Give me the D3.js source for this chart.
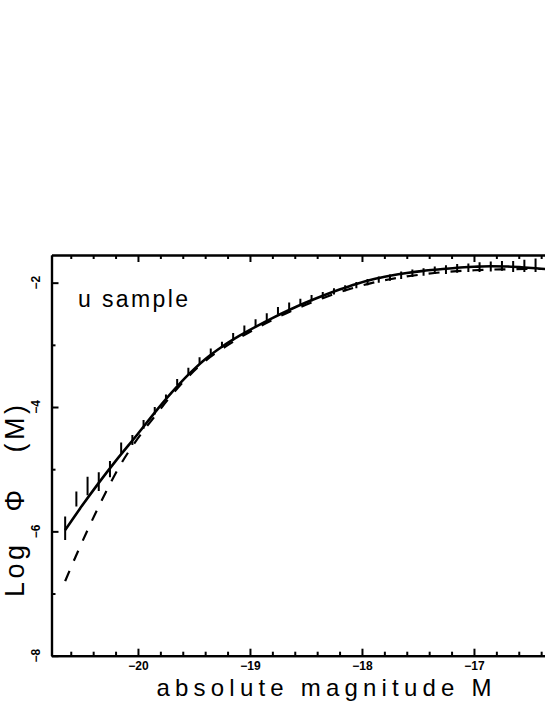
<!DOCTYPE html>
<html><head><meta charset="utf-8">
<script src="https://cdn.jsdelivr.net/npm/d3@7"></script>
<style>body{margin:0;background:#fff}svg{display:block}</style>
</head><body>
<script>
// Solid curve (fit)
const solidM = [-20.65,-20.5,-20.35,-20.2,-20.0,-19.85,-19.7,-19.55,-19.4,-19.25,-19.1,-18.95,-18.8,-18.65,-18.5,-18.35,-18.2,-18.05,-17.9,-17.75,-17.6,-17.45,-17.3,-17.15,-17.0,-16.85,-16.7,-16.55,-16.4,-16.25];
const solidV = [-5.98,-5.59,-5.22,-4.87,-4.43,-4.09,-3.77,-3.48,-3.23,-3.03,-2.86,-2.71,-2.57,-2.44,-2.32,-2.21,-2.11,-2.02,-1.945,-1.89,-1.845,-1.81,-1.785,-1.76,-1.745,-1.735,-1.74,-1.755,-1.775,-1.795];
// Dashed curve
const dashM = [-20.65,-20.55,-20.45,-20.35,-20.25,-20.15,-20.05,-19.95,-19.85,-19.7,-19.55,-19.4,-19.25,-19.1,-18.95,-18.8,-18.65,-18.5,-18.35,-18.2,-18.05,-17.9,-17.75,-17.6,-17.45,-17.3,-17.15,-17.0,-16.85,-16.7,-16.55,-16.4,-16.25];
const dashV = [-6.80,-6.38,-5.98,-5.60,-5.24,-4.91,-4.63,-4.38,-4.15,-3.81,-3.51,-3.26,-3.065,-2.895,-2.74,-2.60,-2.47,-2.355,-2.25,-2.155,-2.07,-2.0,-1.945,-1.9,-1.865,-1.835,-1.815,-1.8,-1.79,-1.785,-1.78,-1.78,-1.785];
// Data points with error bars
const ptM = [-20.65,-20.55,-20.45,-20.35,-20.25,-20.15,-20.05,-19.95,-19.85,-19.75,-19.65,-19.55,-19.45,-19.35,-19.25,-19.15,-19.05,-18.95,-18.85,-18.75,-18.65,-18.55,-18.45,-18.35,-18.25,-18.15,-18.05,-17.95,-17.85,-17.75,-17.65,-17.55,-17.45,-17.35,-17.25,-17.15,-17.05,-16.95,-16.85,-16.75,-16.65,-16.55,-16.45,-16.35];
const ptV = [-5.95,-5.48,-5.27,-5.20,-5.00,-4.66,-4.53,-4.28,-4.06,-3.85,-3.60,-3.42,-3.25,-3.11,-3.00,-2.87,-2.75,-2.65,-2.55,-2.45,-2.38,-2.31,-2.25,-2.20,-2.14,-2.09,-2.04,-1.99,-1.95,-1.92,-1.88,-1.85,-1.83,-1.80,-1.79,-1.77,-1.76,-1.75,-1.74,-1.73,-1.74,-1.73,-1.72,-1.73];
const ptErr = [0.19,0.12,0.15,0.15,0.13,0.09,0.08,0.07,0.06,0.05,0.05,0.05,0.05,0.05,0.05,0.06,0.06,0.06,0.06,0.06,0.06,0.05,0.05,0.05,0.05,0.05,0.05,0.05,0.05,0.05,0.06,0.06,0.06,0.06,0.07,0.07,0.07,0.08,0.08,0.08,0.09,0.10,0.11,0.12];
// Ticks
const xMajor = [-20,-19,-18,-17];
const xMinor = [-20.6,-20.4,-20.2,-19.8,-19.6,-19.4,-19.2,-18.8,-18.6,-18.4,-18.2,-17.8,-17.6,-17.4,-17.2,-16.8,-16.6,-16.4,-16.2];
const xLabels = ["−20","−19","−18","−17"];
const yMajor = [-8,-6,-4,-2];
const yMinor = [-7,-5,-3];
const yLabels = ["−8","−6","−4","−2"];
const xTitle = "absolute magnitude M";
const yTitleWords = ["Log","Φ","(M)"];
const sampleLabel = "u sample";

const W=545,H=705;
const L=51.5,T=255,B=655.7;
const svg=d3.select("body").append("svg").attr("width",W).attr("height",H)
  .style("font-family","'Liberation Sans', Arial, Helvetica, sans-serif");
const x=d3.scaleLinear().domain([-20.772,-16]).range([L,L+4.772*112]);
const y=d3.scaleLinear().domain([-8,-1.555]).range([B,T]);

svg.append("defs").append("clipPath").attr("id","clip")
  .append("rect").attr("x",L).attr("y",T).attr("width",600).attr("height",B-T);

function styleAxis(g){
  g.selectAll("path,line").attr("stroke","#000").attr("stroke-width",2);
  g.select(".domain").attr("stroke-width",2.2);
}
// bottom axis
const gb=svg.append("g").attr("transform",`translate(0,${B})`);
gb.append("g").call(d3.axisBottom(x).tickValues(xMinor).tickSize(-4).tickSizeOuter(0).tickFormat("")).call(styleAxis);
gb.append("g").call(d3.axisBottom(x).tickValues(xMajor).tickSize(-7).tickSizeOuter(0).tickPadding(6)
  .tickFormat((d,i)=>xLabels[i])).call(styleAxis)
  .call(g=>g.selectAll("text").attr("font-size",12).attr("font-weight","bold").attr("fill","#000").attr("font-family","'Liberation Sans', Arial, sans-serif"));
// top axis
const gt=svg.append("g").attr("transform",`translate(0,${T})`);
gt.append("g").call(d3.axisTop(x).tickValues(xMinor).tickSize(-4).tickSizeOuter(0).tickFormat("")).call(styleAxis);
gt.append("g").call(d3.axisTop(x).tickValues(xMajor).tickSize(-7).tickSizeOuter(0).tickFormat("")).call(styleAxis);
// left axis
const gl=svg.append("g").attr("transform",`translate(${L},0)`);
gl.append("g").call(d3.axisLeft(y).tickValues(yMinor).tickSize(-4).tickSizeOuter(0).tickFormat("")).call(styleAxis);
gl.append("g").call(d3.axisLeft(y).tickValues(yMajor).tickSize(-7).tickSizeOuter(0).tickFormat("")).call(styleAxis);
// y tick labels rotated
svg.append("g").selectAll("text").data(yMajor).join("text")
  .attr("transform",d=>`translate(40,${y(d)}) rotate(-90)`)
  .attr("text-anchor","middle").attr("font-size",12).attr("font-weight","bold")
  .text((d,i)=>yLabels[i]);

// curves
const plot=svg.append("g").attr("clip-path","url(#clip)");
const line=d3.line().x(d=>x(d[0])).y(d=>y(d[1])).curve(d3.curveMonotoneX);
plot.append("path").datum(dashM.map((m,i)=>[m,dashV[i]])).attr("d",line)
  .attr("fill","none").attr("stroke","#000").attr("stroke-width",2.2).attr("stroke-dasharray","11,11");
plot.append("path").datum(solidM.map((m,i)=>[m,solidV[i]])).attr("d",line)
  .attr("fill","none").attr("stroke","#000").attr("stroke-width",2.6);
plot.append("g").selectAll("line").data(ptM).join("line")
  .attr("x1",d=>x(d)).attr("x2",d=>x(d))
  .attr("y1",(d,i)=>y(ptV[i]-ptErr[i])).attr("y2",(d,i)=>y(ptV[i]+ptErr[i]))
  .attr("stroke","#000").attr("stroke-width",2);

// titles
svg.append("text").attr("x",324).attr("y",696).attr("text-anchor","middle")
  .attr("font-size",24).attr("textLength",335).attr("lengthAdjust","spacing").text(xTitle);
const yt=svg.append("text").attr("transform","translate(24,597) rotate(-90)")
  .attr("font-size",27).attr("letter-spacing",3.5);
const gaps=[0,30,34];
yt.selectAll("tspan").data(yTitleWords).join("tspan").attr("dx",(d,i)=>gaps[i]).text(d=>d);
svg.append("text").attr("x",78).attr("y",306.5)
  .attr("font-size",23).attr("textLength",110).attr("lengthAdjust","spacing").text(sampleLabel);
</script>
</body></html>
